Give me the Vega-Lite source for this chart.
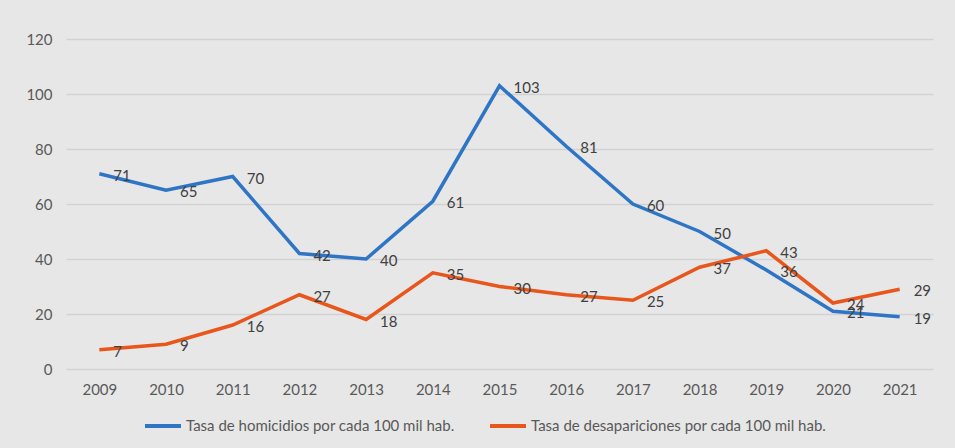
{
  "$schema": "https://vega.github.io/schema/vega-lite/v6.json",
  "autosize": {"type": "none"},
  "width": 867,
  "height": 330,
  "padding": {"left": 66, "top": 39, "right": 22, "bottom": 79},
  "background": "#e7e7e7",
  "config": {
    "view": {"stroke": null},
    "font": "Lato",
    "axis": {"labelFont": "Lato", "labelColor": "#595959", "labelFontSize": 15}
  },
  "data": {
    "values": [
      {"year": "2009", "serie": "Tasa de homicidios por cada 100 mil hab.", "value": 71},
      {"year": "2010", "serie": "Tasa de homicidios por cada 100 mil hab.", "value": 65},
      {"year": "2011", "serie": "Tasa de homicidios por cada 100 mil hab.", "value": 70},
      {"year": "2012", "serie": "Tasa de homicidios por cada 100 mil hab.", "value": 42},
      {"year": "2013", "serie": "Tasa de homicidios por cada 100 mil hab.", "value": 40},
      {"year": "2014", "serie": "Tasa de homicidios por cada 100 mil hab.", "value": 61},
      {"year": "2015", "serie": "Tasa de homicidios por cada 100 mil hab.", "value": 103},
      {"year": "2016", "serie": "Tasa de homicidios por cada 100 mil hab.", "value": 81},
      {"year": "2017", "serie": "Tasa de homicidios por cada 100 mil hab.", "value": 60},
      {"year": "2018", "serie": "Tasa de homicidios por cada 100 mil hab.", "value": 50},
      {"year": "2019", "serie": "Tasa de homicidios por cada 100 mil hab.", "value": 36},
      {"year": "2020", "serie": "Tasa de homicidios por cada 100 mil hab.", "value": 21},
      {"year": "2021", "serie": "Tasa de homicidios por cada 100 mil hab.", "value": 19},
      {"year": "2009", "serie": "Tasa de desapariciones por cada 100 mil hab.", "value": 7},
      {"year": "2010", "serie": "Tasa de desapariciones por cada 100 mil hab.", "value": 9},
      {"year": "2011", "serie": "Tasa de desapariciones por cada 100 mil hab.", "value": 16},
      {"year": "2012", "serie": "Tasa de desapariciones por cada 100 mil hab.", "value": 27},
      {"year": "2013", "serie": "Tasa de desapariciones por cada 100 mil hab.", "value": 18},
      {"year": "2014", "serie": "Tasa de desapariciones por cada 100 mil hab.", "value": 35},
      {"year": "2015", "serie": "Tasa de desapariciones por cada 100 mil hab.", "value": 30},
      {"year": "2016", "serie": "Tasa de desapariciones por cada 100 mil hab.", "value": 27},
      {"year": "2017", "serie": "Tasa de desapariciones por cada 100 mil hab.", "value": 25},
      {"year": "2018", "serie": "Tasa de desapariciones por cada 100 mil hab.", "value": 37},
      {"year": "2019", "serie": "Tasa de desapariciones por cada 100 mil hab.", "value": 43},
      {"year": "2020", "serie": "Tasa de desapariciones por cada 100 mil hab.", "value": 24},
      {"year": "2021", "serie": "Tasa de desapariciones por cada 100 mil hab.", "value": 29}
    ]
  },
  "encoding": {
    "x": {
      "field": "year", "type": "ordinal",
      "scale": {"type": "point", "padding": 0.5},
      "axis": {"title": null, "labelAngle": 0, "ticks": false, "domain": false, "labelPadding": 13}
    },
    "y": {
      "field": "value", "type": "quantitative",
      "scale": {"domain": [0, 120]},
      "axis": {"title": null, "values": [0, 20, 40, 60, 80, 100, 120], "ticks": false, "domain": false, "labelPadding": 14, "gridColor": "#d2d2d2", "gridWidth": 1.5}
    }
  },
  "layer": [
    {
      "mark": {"type": "line", "strokeWidth": 3.5},
      "encoding": {
        "color": {
          "field": "serie", "type": "nominal",
          "scale": {
            "domain": ["Tasa de homicidios por cada 100 mil hab.", "Tasa de desapariciones por cada 100 mil hab."],
            "range": ["#2e75c6", "#e8561c"]
          },
          "legend": {
            "title": null, "orient": "none", "legendX": 77, "legendY": 367, "direction": "horizontal",
            "symbolType": "stroke", "symbolSize": 1296, "symbolStrokeWidth": 4,
            "labelFont": "Lato", "labelFontSize": 15, "labelColor": "#595959",
            "labelLimit": 400, "columnPadding": 27, "labelOffset": 3
          }
        }
      }
    },
    {
      "mark": {"type": "text", "align": "left", "baseline": "middle", "dx": 14, "dy": 2, "fontSize": 15, "color": "#404040", "font": "Lato"},
      "encoding": {
        "text": {"field": "value", "type": "quantitative"}
      }
    }
  ]
}
